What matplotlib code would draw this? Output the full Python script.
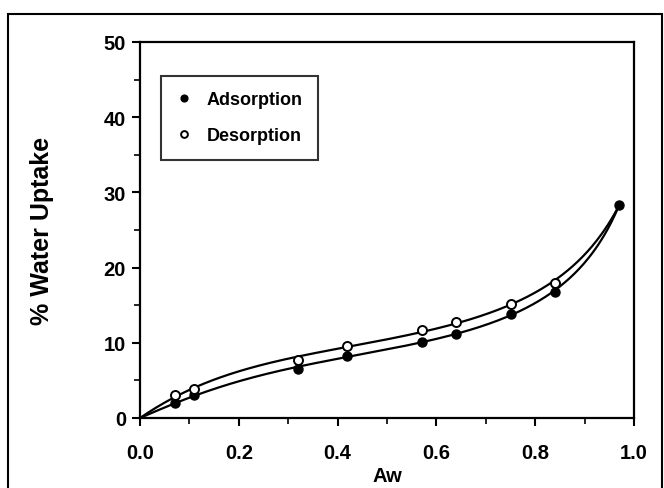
import numpy as np
import matplotlib
matplotlib.use("Agg")
import matplotlib.pyplot as plt
from matplotlib.patches import Rectangle
from matplotlib.ticker import MultipleLocator

aw_ads = [0.07, 0.11, 0.32, 0.42, 0.57, 0.64, 0.75, 0.84, 0.97]
wu_ads = [2.0, 3.0, 6.5, 8.3, 10.1, 11.2, 13.8, 16.8, 28.3]
aw_des = [0.07, 0.11, 0.32, 0.42, 0.57, 0.64, 0.75, 0.84]
wu_des = [3.0, 3.9, 7.7, 9.6, 11.7, 12.7, 15.1, 18.0]

plt.rcParams['font.family'] = ['Liberation Sans', 'DejaVu Sans']
plt.rcParams['font.weight'] = 'bold'

fig = plt.figure(figsize=(6.64, 4.89), dpi=100)
L, R, T, B = 140, 634, 43, 419
ax = fig.add_axes([L/664, 1-B/489, (R-L)/664, (B-T)/489])

def iso_fit(a, m):
    a = np.asarray(a, float); m = np.asarray(m, float)
    w = m**2 / a
    w[-1] *= 10
    c = np.polyfit(a, a/m, 3, w=w)
    xs = np.linspace(0, max(a), 300)
    return xs, xs/np.polyval(c, xs)

xa, ya = iso_fit(aw_ads, wu_ads)
xd, yd = iso_fit(aw_des + [aw_ads[-1]], wu_des + [wu_ads[-1]])
ax.plot(xa, ya, color='black', lw=1.6)
ax.plot(xd, yd, color='black', lw=1.6)

ax.plot(aw_ads, wu_ads, 'o', ms=6.5, mfc='black', mec='black', label='Adsorption')
ax.plot(aw_des, wu_des, 'o', ms=6.5, mfc='white', mec='black', mew=1.4, label='Desorption')

ax.set_xlim(0, 1.0)
ax.set_ylim(0, 50)
ax.xaxis.set_minor_locator(MultipleLocator(0.1))
ax.yaxis.set_major_locator(MultipleLocator(10))
ax.yaxis.set_minor_locator(MultipleLocator(5))
ax.set_xticks(np.arange(0, 1.01, 0.2))
ax.set_xticklabels(['0.0', '0.2', '0.4', '0.6', '0.8', '1.0'])
ax.tick_params(which='major', direction='out', length=6, width=1.5, labelsize=14.5)
ax.tick_params(axis='x', which='major', pad=12)
ax.tick_params(axis='y', which='major', pad=4)
ax.tick_params(which='minor', direction='out', length=4, width=1.2)
for s in ax.spines.values():
    s.set_linewidth(1.6)
for lab in ax.get_xticklabels() + ax.get_yticklabels():
    lab.set_fontweight('heavy')

ax.set_xlabel('Aw', fontsize=14.5, fontweight='heavy', labelpad=3)
ax.set_ylabel('% Water Uptake', fontsize=18, fontweight='heavy', labelpad=36)

leg = ax.legend(loc='upper left', bbox_to_anchor=((161-L)/(R-L), (B-77)/(B-T)),
                frameon=True, fancybox=False,
                edgecolor='black', fontsize=13, markerscale=0.75, handlelength=0.8,
                handletextpad=0.9, labelspacing=1.05, borderpad=0.85, borderaxespad=0)
leg.get_frame().set_linewidth(1.5)
for t in leg.get_texts():
    t.set_fontweight('bold')

fig.patches.append(Rectangle((8/664, -0.01), (662-8)/664, 1.01-15/489, transform=fig.transFigure,
                             fill=False, edgecolor='black', lw=1.5))

fig.savefig('out.png', dpi=100)
